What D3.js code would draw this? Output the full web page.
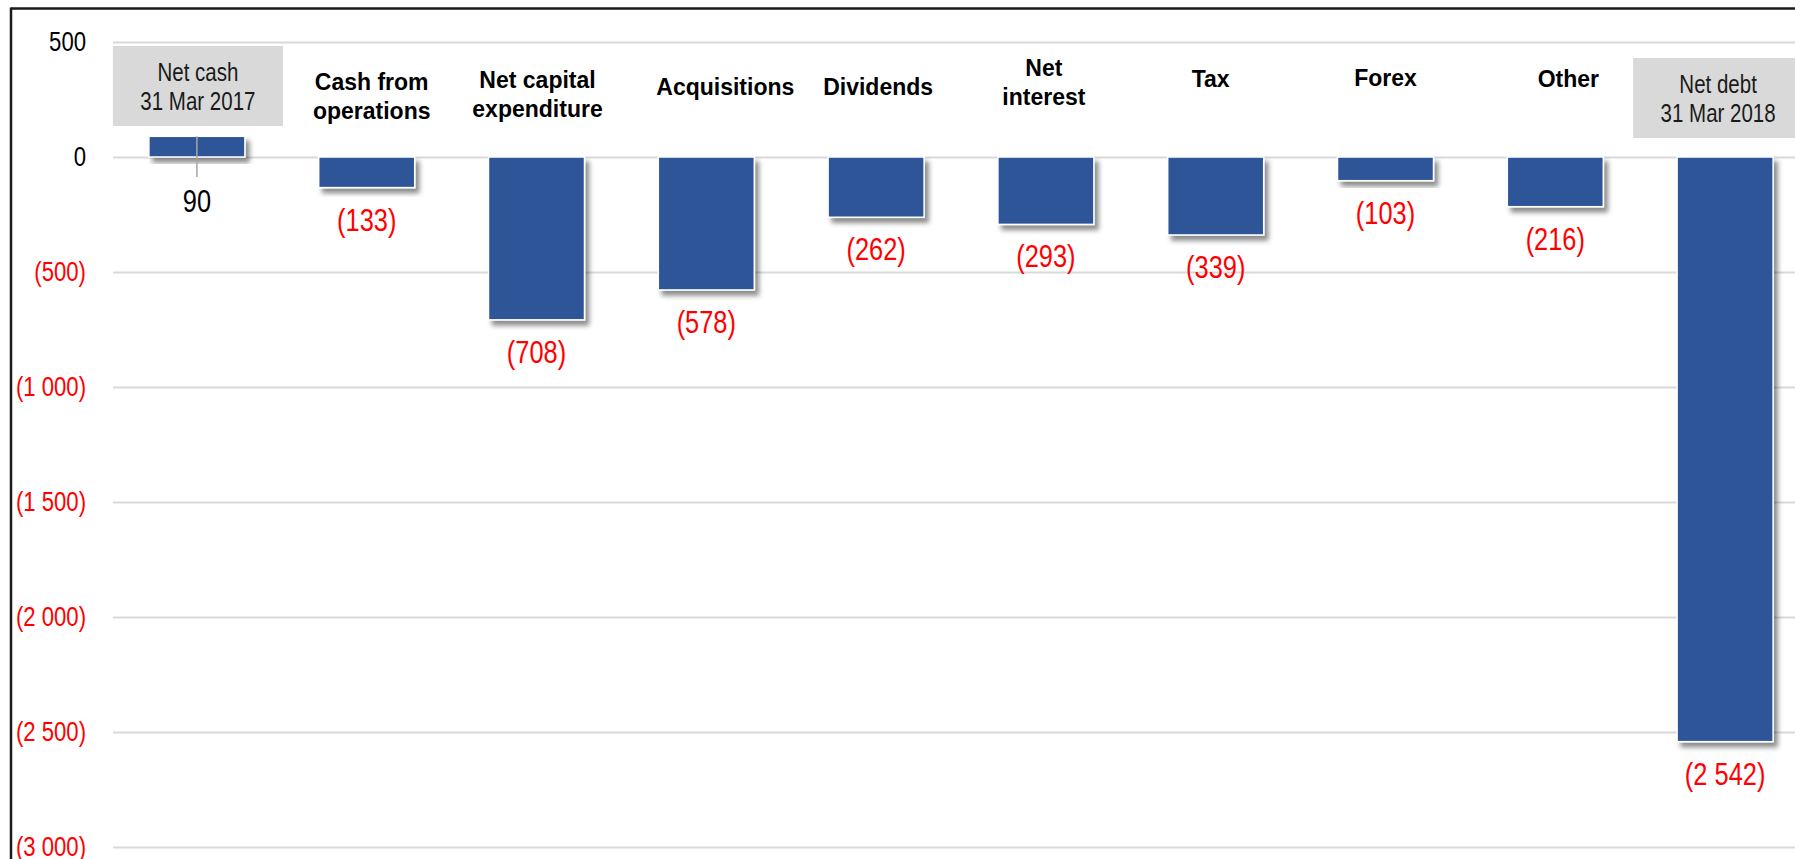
<!DOCTYPE html>
<html>
<head>
<meta charset="utf-8">
<script src="https://cdn.jsdelivr.net/npm/d3@7"></script>
<style>
  html, body { margin: 0; padding: 0; background: #fff; }
  svg { display: block; }
  .narrow { font-family: "Liberation Sans", Arial, sans-serif; }
  .bold { font-family: "Liberation Sans", Arial, sans-serif; font-weight: bold; }
</style>
</head>
<body>
<script>
// ---- data ----
const categories = [
  "Net cash\n31 Mar 2017",
  "Cash from\noperations",
  "Net capital\nexpenditure",
  "Acquisitions",
  "Dividends",
  "Net\ninterest",
  "Tax",
  "Forex",
  "Other",
  "Net debt\n31 Mar 2018"
];
const values = [90, -133, -708, -578, -262, -293, -339, -103, -216, -2542];
const yTicks = [500, 0, -500, -1000, -1500, -2000, -2500, -3000];
const boxedCategories = ["Net cash\n31 Mar 2017", "Net debt\n31 Mar 2018"];

// ---- layout (label nudges relative to bar centre, first baseline in px) ----
const labelDx = [1, 5, 1, 19, 2, -2, -5, 0, 13, -7];
const labelTop = [81, 90, 88, 95, 95, 76, 87, 86, 87, 93];

const NARROW = 0.82; // horizontal squeeze emulating a narrow face
const W = 1795, H = 859;
const svg = d3.select("body").append("svg").attr("width", W).attr("height", H);

const defs = svg.append("defs");
const f = defs.append("filter").attr("id", "shadow")
  .attr("x", "-20%").attr("y", "-20%").attr("width", "150%").attr("height", "150%");
f.append("feDropShadow").attr("dx", 4).attr("dy", 5).attr("stdDeviation", 2.5)
  .attr("flood-color", "#000").attr("flood-opacity", 0.45);

const x = d3.scaleBand().domain(categories).range([112, 1810])
  .paddingInner(0.4346).paddingOuter(0.2173);
const y = d3.scaleLinear().domain([500, -3000]).range([42, 847]);

const fmt = v => {
  const s = d3.format(",")(Math.abs(v)).replace(/,/g, " ");
  return v < 0 ? "(" + s + ")" : s;
};

// gridlines + y labels
const axisG = svg.append("g").attr("transform", "translate(113,0)")
  .call(d3.axisLeft(y).tickValues(yTicks).tickSize(-(W - 113)).tickPadding(27).tickFormat(fmt));
axisG.select(".domain").remove();
axisG.selectAll(".tick line").attr("stroke", "#d9d9d9").attr("stroke-width", 2);
axisG.selectAll(".tick text")
  .attr("class", "narrow")
  .attr("font-size", 27)
  .attr("x", 0)
  .attr("transform", `translate(-27,0) scale(${NARROW},1)`)
  .attr("fill", d => d < 0 ? "#ff0000" : "#000");

// bars
svg.append("g").selectAll("rect").data(values).join("rect")
  .attr("x", (d, i) => x(categories[i]))
  .attr("width", x.bandwidth())
  .attr("y", d => y(Math.max(0, d)))
  .attr("height", d => Math.abs(y(d) - y(0)))
  .attr("fill", "#2f5597")
  .attr("stroke", "#fff")
  .attr("stroke-width", 1.5)
  .attr("filter", "url(#shadow)");

// connector line for positive bar
svg.append("g").selectAll("line").data(values.map((v, i) => ({v, i})).filter(d => d.v > 0)).join("line")
  .attr("x1", d => x(categories[d.i]) + x.bandwidth() / 2)
  .attr("x2", d => x(categories[d.i]) + x.bandwidth() / 2)
  .attr("y1", d => y(d.v))
  .attr("y2", y(0) + 20)
  .attr("stroke", "#a6a6a6").attr("stroke-width", 1.5);

// value labels
svg.append("g").selectAll("text").data(values).join("text")
  .attr("class", "narrow")
  .attr("font-size", 31)
  .attr("text-anchor", "middle")
  .attr("transform", (d, i) => {
    const cx = x(categories[i]) + x.bandwidth() / 2;
    const cy = d < 0 ? y(d) + 43 : y(0) + 55;
    return `translate(${cx},${cy}) scale(${NARROW},1)`;
  })
  .attr("fill", d => d < 0 ? "#ff0000" : "#000")
  .text(fmt);

// category labels
const catG = svg.append("g");
categories.forEach((c, i) => {
  const cx = x(c) + x.bandwidth() / 2 + labelDx[i];
  const lines = c.split("\n");
  const boxed = boxedCategories.includes(c);
  if (boxed) {
    catG.append("rect")
      .attr("x", cx - 85).attr("y", labelTop[i] - 35)
      .attr("width", 170).attr("height", 80)
      .attr("fill", "#d9d9d9");
  }
  const t = catG.append("text")
    .attr("class", boxed ? "narrow" : "bold")
    .attr("font-size", boxed ? 25 : 23)
    .attr("fill", boxed ? "#1a1a1a" : "#000")
    .attr("text-anchor", "middle")
    .attr("transform", `translate(${cx},${labelTop[i]}) scale(${boxed ? NARROW : 1},1)`);
  lines.forEach((ln, k) => {
    t.append("tspan").attr("x", 0).attr("y", k * (boxed ? 29 : 28.5)).text(ln);
  });
});

// frame
svg.append("line").attr("x1", 11).attr("x2", W).attr("y1", 8.5).attr("y2", 8.5)
  .attr("stroke", "#1a1a1a").attr("stroke-width", 2.5);
svg.append("line").attr("x1", 11).attr("x2", 11).attr("y1", 7.5).attr("y2", H)
  .attr("stroke", "#1a1a1a").attr("stroke-width", 2.5);
</script>
</body>
</html>
